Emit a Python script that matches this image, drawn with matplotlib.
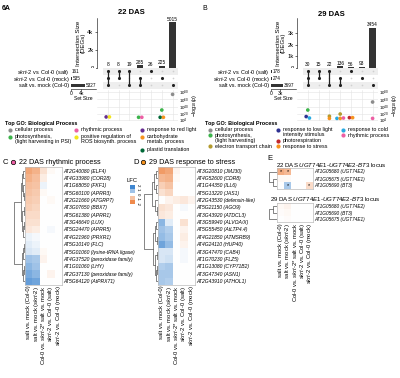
import numpy as np
import matplotlib.pyplot as plt
from matplotlib.colors import LinearSegmentedColormap

plt.rcParams['font.family'] = ['Liberation Sans', 'DejaVu Sans']
plt.rcParams['mathtext.fontset'] = 'custom'
plt.rcParams['mathtext.rm'] = 'Liberation Sans'
plt.rcParams['mathtext.it'] = 'Liberation Sans:italic'
plt.rcParams['mathtext.bf'] = 'Liberation Sans:bold'
plt.rcParams['axes.linewidth'] = 0.4

# ---------------- data ----------------
set_labels = [r'$\mathit{skrt}$-2 vs. Col-0 (salt)', r'$\mathit{skrt}$-2 vs. Col-0 (mock)', 'salt vs. mock (Col-0)']
combos = [[0, 1, 2], [0, 1], [0, 2], [1, 2], [0], [1], [2]]

a_bars = [8, 8, 19, 285, 26, 225, 5015]
a_sets = [161, 535, 5327]
b_bars = [30, 15, 22, 136, 56, 93, 3454]
b_sets = [178, 274, 3697]

go_colors = {
    'cellular process': '#8c8c8c',
    'photosynthesis': '#3cb44b',
    'rhythmic process': '#ec5fa4',
    'ROS': '#f2e51b',
    'red light': '#662d91',
    'carbohydrate': '#f7931e',
    'plastid translation': '#006837',
    'low light': '#2e3192',
    'photorespiration': '#c1272d',
    'stress': '#f7931e',
    'cold': '#29abe2',
    'electron transport': '#b39b2e',
}

a_go_col = [0, 0, 3, 3, 5, 5, 5, 6]
a_go_val = [12, 12, 11, 11, 31, 11, 11, 74]
a_go_term = ['red light', 'ROS', 'photosynthesis', 'rhythmic process', 'photosynthesis',
             'plastid translation', 'carbohydrate', 'cellular process']

b_go_col = [0, 0, 0, 2, 2, 3, 3, 3, 3, 4, 4, 6, 6]
b_go_val = [31, 13, 9, 14, 8, 20, 8, 8, 9, 10, 10, 53, 8]
b_go_term = ['photosynthesis', 'low light', 'cold', 'electron transport', 'stress',
             'electron transport', 'cold', 'stress', 'rhythmic process', 'photorespiration',
             'stress', 'cellular process', 'rhythmic process']

a_legend = [('cellular process', 'cellular process'),
            ('photosynthesis', 'photosynthesis,\n(light harvesting in PSI)'),
            ('rhythmic process', 'rhythmic process'),
            ('ROS', 'positive regulation of\nROS biosynth. process'),
            ('red light', 'response to red light'),
            ('carbohydrate', 'carbohydrate\nmetab. process'),
            ('plastid translation', 'plastid translation')]
b_legend = [('cellular process', 'cellular process'),
            ('photosynthesis', 'photosynthesis,\n(light harvesting)'),
            ('electron transport', 'electron transport chain'),
            ('low light', 'response to low light\nintensity stimulus'),
            ('photorespiration', 'photorespiration'),
            ('stress', 'response to stress'),
            ('cold', 'response to cold'),
            ('rhythmic process', 'rhythmic process')]

col_labels = ['salt vs. mock (Col-0)', r'salt vs. mock ($\mathit{skrt}$-2)',
              r'Col-0 vs. $\mathit{skrt}$-2* salt vs. mock',
              r'$\mathit{skrt}$-2 vs. Col-0 (salt)', r'$\mathit{skrt}$-2 vs. Col-0 (mock)']

c_genes = ['AT2G40080 (ELF4)', 'AT4G33980 (COR28)', 'AT1G68050 (FKF1)', 'AT5G60100 (APRR3)',
           'AT2G21660 (ATGRP7)', 'AT3G07650 (BBX7)', 'AT5G61380 (APRR1)', 'AT3G46640 (LUX)',
           'AT5G24470 (APRR5)', 'AT4G21960 (PRXR1)', 'AT5G10140 (FLC)',
           'AT5G01060 (lysine-tRNA ligase)', 'AT4G37520 (peroxidase family)', 'AT1G01060 (LHY)',
           'AT2G37130 (peroxidase family)', 'AT5G64120 (AtPRX71)']
c_vals = [[1.5, 1.3, 0.5, 0.1, 0.0],
          [1.3, 1.1, 0.3, 0.0, 0.0],
          [1.1, 1.0, -0.2, 0.0, 0.0],
          [1.0, 0.9, 0.1, 0.0, 0.0],
          [0.9, 0.8, 0.0, 0.1, 0.0],
          [0.8, 0.7, 0.0, 0.0, 0.0],
          [0.6, 0.6, 0.0, 0.0, 0.0],
          [0.5, 0.5, 0.0, 0.0, 0.0],
          [0.4, 0.3, 0.0, -0.1, 0.0],
          [-0.2, -0.1, 0.0, 0.0, 0.0],
          [-0.3, -0.2, 0.0, 0.0, 0.0],
          [-0.4, -0.3, 0.1, 0.0, 0.0],
          [-1.0, -0.9, 0.2, 0.0, 0.0],
          [-1.2, -1.0, 0.0, 0.0, 0.0],
          [-1.4, -1.2, 0.0, 0.2, 0.0],
          [-1.6, -1.5, 0.0, 0.0, 0.0]]
c_tree = ((((0, 1, 1.5), (2, (3, 4, 0.8), 1.2), 2.5),
           ((5, 6, 0.9), ((7, 8, 0.7), 9, 1.3), 2.0), 3.5),
          (((10, 11, 1.0), 12, 1.8), ((13, 14, 0.8), 15, 1.4), 2.6), 9.0)

d_genes = ['AT3G20810 (JMJ30)', 'AT4G52600 (CDR8)', 'AT1G44350 (ILL6)', 'AT5G13220 (JAS1)',
           'AT2G43530 (defensin-like)', 'AT5G21150 (AGO9)', 'AT3G43920 (ATDCL3)',
           'AT3G59940 (ALVOA/X)', 'AT5G55450 (AtLTP4.4)', 'AT4G21850 (ATMSRB9)',
           'AT4G24110 (HUP40)', 'AT3G47470 (CAB4)', 'AT1G70230 (FLZ5)', 'AT1G13080 (CYP71B2)',
           'AT3G47340 (ASN1)', 'AT2G43910 (ATHOL1)']
d_vals = [[1.7, 1.5, 0.2, 0.0, 0.0],
          [1.2, 1.3, 0.1, 0.0, 0.0],
          [0.8, 1.0, 0.0, 0.0, 0.0],
          [0.5, 0.7, 0.0, 0.0, 0.0],
          [0.0, 0.2, 0.3, 0.4, 0.2],
          [0.5, 0.4, 0.0, -0.1, 0.0],
          [0.4, 0.3, 0.0, 0.0, 0.0],
          [-1.2, -0.3, 0.0, 0.5, 0.0],
          [-1.0, -0.8, 0.0, 0.2, 0.0],
          [-1.1, -0.9, 0.0, 0.3, 0.0],
          [-1.5, -1.1, 0.0, 0.2, 0.0],
          [-0.4, -0.4, 0.0, -0.1, 0.0],
          [-0.4, -0.5, 0.0, -0.1, 0.0],
          [-0.8, -0.9, 0.0, 0.0, 0.0],
          [-0.9, -0.9, 0.0, 0.0, 0.0],
          [-0.9, -0.8, 0.0, 0.0, 0.0]]
d_tree = ((((0, 1, 1.2), (2, 3, 1.0), 2.0), (4, (5, 6, 0.8), 1.5), 3.0),
          (((7, 8, 0.9), (9, 10, 0.8), 1.8), ((11, 12, 0.7), ((13, 14, 0.6), 15, 1.0), 1.6), 2.8), 7.5)

e1_genes = ['AT1G05680 (UGT74E2)', 'AT1G05675 (UGT74E1)', 'AT1G05690 (BT3)']
e1_vals = [[1.4, 1.2, 0.0, 0.0, 0.0], [0.1, 0.1, 0.0, 0.0, 0.0], [0.0, -0.9, 0.0, 0.0, 0.6]]
e1_sig = [[1, 1, 0, 0, 0], [0, 0, 0, 0, 0], [0, 1, 0, 0, 1]]
e1_tree = (0, (1, 2, 1.0), 2.0)
e2_genes = ['AT1G05680 (UGT74E2)', 'AT1G05690 (BT3)', 'AT1G05675 (UGT74E1)']
e2_vals = [[0.1, 0.2, 0.0, 0.0, 0.0], [0.05, 0.1, 0.0, 0.0, 0.0], [0.0, 0.05, 0.0, 0.0, 0.0]]
e2_tree = ((0, 1, 1.0), 2, 2.0)

lfc_ticks = [2, 1, 0, -1, -2]

# ---------------- figure ----------------
W, H = 400, 378
fig = plt.figure(figsize=(4, 3.78), dpi=100)
ov = fig.add_axes([0, 0, 1, 1])
ov.set_xlim(0, W)
ov.set_ylim(H, 0)
ov.axis('off')

cmap = LinearSegmentedColormap.from_list('lfc', ['#3f86d0', '#ffffff', '#ef8a4c'])


def box(x0, y0, x1, y1):
    return fig.add_axes([x0 / W, 1 - y1 / H, (x1 - x0) / W, (y1 - y0) / H])


def go_offsets(cols, vals):
    offs = []
    for i, (c, v) in enumerate(zip(cols, vals)):
        grp = [j for j in range(len(cols)) if cols[j] == c and abs(vals[j] - v) < 6]
        k = grp.index(i)
        offs.append((k - (len(grp) - 1) / 2) * 0.3)
    return offs


def upset(dx, bars, sets, ymax, yt, ytl, ssmax, sst, sstl, gcol, gval, gterm):
    x0, x1 = 97 + dx, 178 + dx
    axb = box(x0, 18, x1, 68)
    axb.bar(range(7), bars, width=0.6, color='#333333')
    for i, v in enumerate(bars):
        axb.text(i, v + ymax * 0.01, str(v), ha='center', va='bottom', fontsize=3.5)
    axb.set_xlim(-1, 6.5)
    axb.set_ylim(0, ymax)
    for s in ['top', 'right', 'bottom']:
        axb.spines[s].set_visible(False)
    axb.set_xticks([])
    axb.set_yticks(yt)
    axb.set_yticklabels(ytl, fontsize=4.2)
    axb.tick_params(axis='y', length=1.5, width=0.4, pad=1)
    axb.set_ylabel('Intersection Size\n(DEGs)', fontsize=4.4, labelpad=1, linespacing=1.0)

    axm = box(x0, 68, x1, 88.5)
    axm.set_xlim(-1, 6.5)
    axm.set_ylim(2.5, -0.5)
    axm.axhspan(-0.5, 0.5, xmin=0.08, color='#eeeeee', lw=0)
    axm.axhspan(1.5, 2.5, xmin=0.08, color='#eeeeee', lw=0)
    for c, rows in enumerate(combos):
        axm.scatter([c] * 3, range(3), s=1.5, color='#d0d0d0', lw=0)
        axm.plot([c, c], [min(rows), max(rows)], color='#222222', lw=0.9)
        axm.scatter([c] * len(rows), rows, s=5, color='#222222', lw=0, zorder=3)
    axm.axis('off')

    axs = box(71 + dx, 68, 96 + dx, 88.5)
    axs.barh(range(3), sets, height=0.45, color='#333333')
    for i, v in enumerate(sets):
        axs.text(v + ssmax * 0.03, i, str(v), va='center', fontsize=3.3)
    axs.set_ylim(2.5, -0.5)
    axs.set_xlim(0, ssmax)
    axs.set_yticks(range(3))
    axs.set_yticklabels(set_labels, fontsize=4.0)
    axs.tick_params(axis='y', length=0, pad=1)
    axs.set_xticks(sst)
    axs.set_xticklabels(sstl, fontsize=3.6)
    axs.tick_params(axis='x', length=1.2, width=0.4, pad=0.5)
    axs.set_xlabel('Set Size', fontsize=3.6, labelpad=0.3)
    for s in ['top', 'right', 'left']:
        axs.spines[s].set_visible(False)

    axg = box(x0, 90, x1, 121.3)
    axg.set_xlim(-1, 6.5)
    axg.set_ylim(0, 86)
    axg.set_xticks(range(7))
    axg.set_xticklabels([])
    axg.set_yticks([4, 20, 40, 60, 80])
    axg.set_yticklabels(['10$^{4}$', '10$^{20}$', '10$^{40}$', '10$^{60}$', '10$^{80}$'], fontsize=3.2)
    axg.yaxis.tick_right()
    axg.yaxis.set_label_position('right')
    axg.tick_params(length=0, pad=1)
    axg.grid(color='#e4e4e4', lw=0.4)
    axg.set_axisbelow(True)
    for s in axg.spines.values():
        s.set_visible(False)
    axg.set_ylabel(r'$-$log$_{10}$($\mathit{p}$)', fontsize=4.0, labelpad=0.5)
    offs = go_offsets(gcol, gval)
    axg.scatter(np.array(gcol) + np.array(offs), gval, s=7,
                color=[go_colors[t] for t in gterm], lw=0, zorder=3)


upset(0, a_bars, a_sets, 5500, [0, 2000, 4000], ['0', '2k', '4k'], 9600, [0, 4000], ['0', '4k'],
      a_go_col, a_go_val, a_go_term)
upset(200, b_bars, b_sets, 4270, [0, 1000, 2000, 3000], ['0', '1k', '2k', '3k'], 8000, [0, 3000],
      ['0', '3k'], b_go_col, b_go_val, b_go_term)

ov.text(2, 8, '6A', fontsize=5, fontweight='bold', va='center')
ov.text(202, 8, 'B', fontsize=5, va='center')
ov.text(131, 12, '22 DAS', fontsize=5.5, fontweight='bold', ha='center', va='center')
ov.text(331, 14, '29 DAS', fontsize=5.5, fontweight='bold', ha='center', va='center')


def legend(entries, x_dot, slots, y0, step, hx, hy):
    ov.text(hx, hy, 'Top GO: Biological Process', fontsize=4, fontweight='bold', va='center')
    for (key, label), xd, sl in zip(entries, x_dot, slots):
        y = y0 + sl * step
        ov.scatter([xd], [y], s=9, color=go_colors[key], lw=0)
        ov.text(xd + 5, y - 2.6, label, fontsize=3.9, va='top', linespacing=1.05)


legend(a_legend, [10, 10, 76, 76, 142, 142, 142], [0, 1, 0, 1, 0, 1, 3], 130, 6.5, 5, 124)
legend(b_legend, [210, 210, 210, 278, 278, 278, 343, 343], [0, 1, 3, 0, 2, 3, 0, 1], 129.5, 5.6, 205, 124)


def draw_tree(ax, node):
    if isinstance(node, int):
        return node, 0.0
    yl, hl = draw_tree(ax, node[0])
    yr, hr = draw_tree(ax, node[1])
    h = node[2]
    ax.plot([hl, h, h, hr], [yl, yl, yr, yr], color='#555555', lw=0.5)
    return (yl + yr) / 2, h


def heatmap(x0, x1, y0, y1, vals, genes, tree, dx0, gfs, sig=None, labels=True):
    v = np.array(vals)
    n = v.shape[0]
    ax = box(x0, y0, x1, y1)
    ax.imshow(v, cmap=cmap, vmin=-2, vmax=2, aspect='auto', interpolation='nearest')
    ax.set_xticks([])
    ax.set_yticks(range(n))
    ax.set_yticklabels(genes, fontsize=gfs, fontstyle='italic')
    ax.yaxis.tick_right()
    ax.tick_params(axis='y', length=0, pad=1)
    for s in ax.spines.values():
        s.set_color('#bbbbbb')
        s.set_linewidth(0.5)
    if sig is not None:
        for i in range(n):
            for j in range(v.shape[1]):
                if sig[i][j]:
                    ax.text(j, i, '*', ha='center', va='center', fontsize=4)
    if labels:
        for j, lab in enumerate(col_labels):
            ax.text(j, n - 0.5 + 0.15, lab, rotation=90, rotation_mode='anchor',
                    ha='right', va='center', fontsize=4.2)
    axd = box(dx0, y0, x0, y1)
    _, hmax = draw_tree(axd, tree)
    axd.set_xlim(hmax * 1.15, 0)
    axd.set_ylim(n - 0.5, -0.5)
    axd.axis('off')
    return ax


heatmap(25, 62, 167, 284.6, c_vals, c_genes, c_tree, 12, 3.6)
heatmap(158, 195, 167, 284.6, d_vals, d_genes, d_tree, 142, 3.6)
heatmap(277, 313, 168, 189, e1_vals, e1_genes, e1_tree, 268, 3.4, sig=e1_sig, labels=False)
heatmap(277, 313, 203, 222, e2_vals, e2_genes, e2_tree, 268, 3.4, labels=True)

# colorbar for LFC
axc = box(130, 185, 135, 204)
axc.imshow(np.array(lfc_ticks, dtype=float).reshape(-1, 1), cmap=cmap, vmin=-2, vmax=2,
           aspect='auto', extent=[0, 1, -2, 2], origin='lower')
axc.set_xticks([])
axc.yaxis.tick_right()
axc.set_yticks(lfc_ticks)
axc.set_yticklabels([str(t) for t in lfc_ticks], fontsize=3.2, rotation=-90, va='center')
axc.tick_params(length=0, pad=0.8)
for s in axc.spines.values():
    s.set_visible(False)
ov.text(132, 180, 'LFC', fontsize=4.2, ha='center', va='center')

# panel titles
ov.text(3, 162, 'C', fontsize=5.5, va='center')
ov.scatter([13], [162], s=10, color=go_colors['rhythmic process'], edgecolor='black', lw=0.5)
ov.text(19, 162, '22 DAS rhythmic process', fontsize=5.2, va='center')
ov.text(133, 162, 'D', fontsize=5.5, va='center')
ov.scatter([143], [162], s=10, color=go_colors['stress'], edgecolor='black', lw=0.5)
ov.text(149, 162, '29 DAS response to stress', fontsize=5.2, va='center')
ov.text(267, 159, 'E', fontsize=5.5, va='center')
ov.text(276, 165, r'22 DAS $\mathit{UGT74E1}$-$\mathit{UGT74E2}$-$\mathit{BT3}$ locus', fontsize=4.4, va='center')
ov.text(270, 199, r'29 DAS $\mathit{UGT74E1}$-$\mathit{UGT74E2}$-$\mathit{BT3}$ locus', fontsize=4.4, va='center')

fig.savefig('out.png', dpi=100)
